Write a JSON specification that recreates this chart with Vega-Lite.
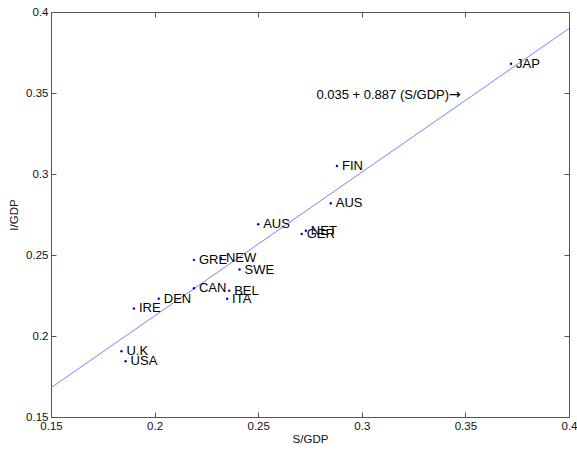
{
  "$schema": "https://vega.github.io/schema/vega-lite/v6.json",
  "width": 518,
  "height": 405,
  "autosize": "none",
  "padding": {"left": 51, "top": 12, "right": 8, "bottom": 33},
  "background": "white",
  "config": {
    "view": {"stroke": "#555555", "strokeWidth": 1},
    "font": "Liberation Sans",
    "axis": {
      "grid": false,
      "domainColor": "#555555",
      "tickColor": "#555555",
      "tickSize": -5,
      "labelFontSize": 11.5,
      "labelColor": "#111111",
      "titleFontSize": 11.5,
      "titleFontWeight": "normal",
      "titleColor": "#111111",
      "format": "~g"
    }
  },
  "datasets": {
    "pts": [
      {"country": "JAP", "sgdp": 0.372, "igdp": 0.368},
      {"country": "FIN", "sgdp": 0.288, "igdp": 0.305},
      {"country": "AUS", "sgdp": 0.285, "igdp": 0.282},
      {"country": "AUS", "sgdp": 0.250, "igdp": 0.269},
      {"country": "NET", "sgdp": 0.273, "igdp": 0.265},
      {"country": "GER", "sgdp": 0.271, "igdp": 0.263},
      {"country": "GRE", "sgdp": 0.219, "igdp": 0.247},
      {"country": "NEW", "sgdp": 0.232, "igdp": 0.248},
      {"country": "SWE", "sgdp": 0.241, "igdp": 0.241},
      {"country": "CAN", "sgdp": 0.219, "igdp": 0.2295},
      {"country": "BEL", "sgdp": 0.236, "igdp": 0.228},
      {"country": "ITA", "sgdp": 0.235, "igdp": 0.223},
      {"country": "DEN", "sgdp": 0.202, "igdp": 0.223},
      {"country": "IRE", "sgdp": 0.190, "igdp": 0.217},
      {"country": "U.K", "sgdp": 0.184, "igdp": 0.1906},
      {"country": "USA", "sgdp": 0.186, "igdp": 0.1844}
    ],
    "fit": [
      {"sgdp": 0.15, "igdp": 0.16805},
      {"sgdp": 0.4, "igdp": 0.3898}
    ],
    "note": [
      {"sgdp": 0.3421, "igdp": 0.349, "label": "0.035 + 0.887 (S/GDP)", "arrow": "→"}
    ]
  },
  "layer": [
    {
      "data": {"name": "fit"},
      "mark": {"type": "line", "color": "#8080ff", "strokeWidth": 1, "clip": true},
      "encoding": {
        "x": {"field": "sgdp", "type": "quantitative", "scale": {"domain": [0.15, 0.4], "nice": false, "zero": false},
              "axis": {"orient": "bottom", "title": "S/GDP", "values": [0.15, 0.2, 0.25, 0.3, 0.35, 0.4], "labelPadding": 8, "titlePadding": 2, "labelFlush": false}},
        "y": {"field": "igdp", "type": "quantitative", "scale": {"domain": [0.15, 0.4], "nice": false, "zero": false},
              "axis": {"orient": "left", "title": "I/GDP", "values": [0.15, 0.2, 0.25, 0.3, 0.35, 0.4], "labelPadding": 8, "titlePadding": 6, "labelFlush": false}}
      }
    },
    {
      "data": {"name": "pts"},
      "mark": {"type": "point", "filled": true, "color": "#0000ff", "size": 6, "opacity": 1},
      "encoding": {
        "x": {"field": "sgdp", "type": "quantitative", "axis": {"orient": "top", "title": null, "labels": false, "values": [0.15, 0.2, 0.25, 0.3, 0.35, 0.4], "domain": false}},
        "y": {"field": "igdp", "type": "quantitative", "axis": {"orient": "right", "title": null, "labels": false, "values": [0.15, 0.2, 0.25, 0.3, 0.35, 0.4], "domain": false}}
      }
    },
    {
      "data": {"name": "pts"},
      "mark": {"type": "text", "align": "left", "baseline": "middle", "dx": 5, "fontSize": 13, "color": "#000000"},
      "encoding": {
        "x": {"field": "sgdp", "type": "quantitative", "axis": null},
        "y": {"field": "igdp", "type": "quantitative", "axis": null},
        "text": {"field": "country"}
      }
    },
    {
      "data": {"name": "note"},
      "mark": {"type": "text", "align": "right", "baseline": "middle", "fontSize": 13, "color": "#000000"},
      "encoding": {
        "x": {"field": "sgdp", "type": "quantitative", "axis": null},
        "y": {"field": "igdp", "type": "quantitative", "axis": null},
        "text": {"field": "label"}
      }
    },
    {
      "data": {"name": "note"},
      "mark": {"type": "text", "align": "left", "baseline": "middle", "fontSize": 14, "font": "DejaVu Sans", "color": "#000000"},
      "encoding": {
        "x": {"field": "sgdp", "type": "quantitative", "axis": null},
        "y": {"field": "igdp", "type": "quantitative", "axis": null},
        "text": {"field": "arrow"}
      }
    }
  ],
  "resolve": {"axis": {"x": "independent", "y": "independent"}}
}
